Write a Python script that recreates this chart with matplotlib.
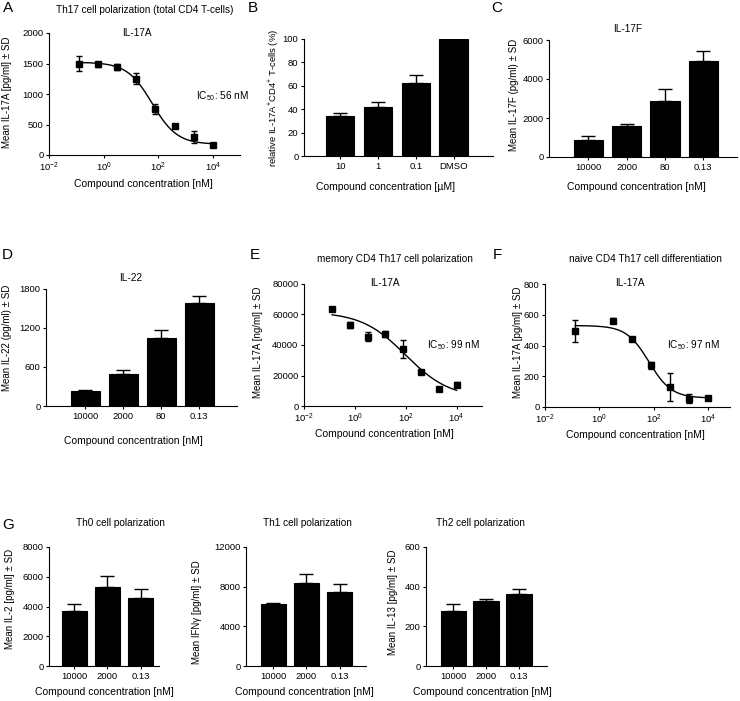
import numpy as np
import matplotlib
matplotlib.use('Agg')
import matplotlib.pyplot as plt

plt.rcParams['font.family'] = ['Liberation Sans', 'DejaVu Sans']
plt.rcParams['mathtext.fontset'] = 'custom'
plt.rcParams['mathtext.rm'] = 'Liberation Sans'
plt.rcParams['mathtext.it'] = 'Liberation Sans'
plt.rcParams['mathtext.bf'] = 'Liberation Sans'
plt.rcParams['axes.unicode_minus'] = False

W, H = 740, 701

# dose series (nM), 5-fold dilution
dose = [0.128, 0.64, 3.2, 16, 80, 400, 2000, 10000]

# A: Th17 total CD4, IL-17A
a_mean = [1500, 1490, 1450, 1250, 750, 470, 300, 160]
a_sd = [120, 40, 50, 90, 80, 20, 100, 20]
a_fit = dict(top=1520, bottom=175, ec50=60, hill=0.95)

# B: relative IL-17A+ CD4+ T-cells
b_labels = ['10', '1', '0.1', 'DMSO']
b_mean = [34, 42, 62, 100]
b_sd = [3, 4.5, 7, 0]

# C: IL-17F
c_labels = ['10000', '2000', '80', '0.13']
c_mean = [870, 1580, 2850, 4930]
c_sd = [230, 130, 650, 520]

# D: IL-22
d_labels = ['10000', '2000', '80', '0.13']
d_mean = [230, 500, 1050, 1590]
d_sd = [20, 50, 120, 100]

# E: memory CD4 Th17, IL-17A
e_mean = [63700, 53200, 45500, 47300, 37400, 22400, 11200, 14000]
e_sd = [600, 2000, 3000, 1800, 6000, 1000, 500, 1500]
e_fit = dict(top=61750, bottom=5150, ec50=99, hill=0.5)

# F: naive CD4 Th17, IL-17A
f_dose = [0.128, 3.2, 16, 80, 400, 2000, 10000]
f_mean = [495, 562, 442, 270, 130, 55, 61]
f_sd = [70, 15, 8, 25, 90, 30, 10]
f_fit = dict(top=530, bottom=58, ec50=66, hill=1.05)

# G: Th0 / Th1 / Th2
g_labels = ['10000', '2000', '0.13']
g0_mean = [3680, 5320, 4560]
g0_sd = [520, 720, 650]
g1_mean = [6300, 8350, 7450]
g1_sd = [80, 900, 800]
g2_mean = [275, 330, 362]
g2_sd = [38, 10, 25]

TICK_FS = 6.8
LAB_FS = 7.5
YLAB_FS = 7.0
TXT_FS = 7.2


def box(fig, l, t, r, b):
    return fig.add_axes([l / W, 1 - b / H, (r - l) / W, (b - t) / H])


def txt(fig, x, y, s, size=TXT_FS, **kw):
    fig.text(x / W, 1 - y / H, s, fontsize=size, ha='center', va='center', **kw)


def ylab(fig, x, y, s, size=YLAB_FS):
    txt(fig, x, y, s, size=size, rotation=90)


def style(ax):
    for s in ['top', 'right']:
        ax.spines[s].set_visible(False)
    for s in ['left', 'bottom']:
        ax.spines[s].set_linewidth(0.8)
    ax.tick_params(direction='out', length=2.5, width=0.8, labelsize=TICK_FS, pad=1.5)


def bar_panel(ax, labels, mean, sd, ymax, yticks, xlim, width):
    x = np.arange(len(labels))
    ax.bar(x, mean, width=width, color='black', edgecolor='black', linewidth=0.8)
    err = [np.zeros(len(sd)), sd]
    ax.errorbar(x, mean, yerr=err, fmt='none', ecolor='black', elinewidth=1.0,
                capsize=5, capthick=1.0)
    ax.set_xticks(x)
    ax.set_xticklabels(labels)
    ax.set_xlim(*xlim)
    ax.set_ylim(0, ymax)
    ax.set_yticks(yticks)
    style(ax)


def hill(x, top, bottom, ec50, hill):
    return bottom + (top - bottom) / (1 + (x / ec50) ** hill)


def dose_panel(ax, xs, mean, sd, fit, ymax, yticks, xmax):
    xc = np.logspace(np.log10(xs[0]), np.log10(xs[-1]), 200)
    ax.plot(xc, hill(xc, **fit), color='black', lw=1.0)
    ax.errorbar(xs, mean, yerr=sd, fmt='s', color='black', ms=4.2,
                elinewidth=1.0, capsize=2.2, capthick=1.0)
    ax.set_xscale('log')
    ax.set_xlim(1e-2, xmax)
    ax.set_xticks([1e-2, 1, 1e2, 1e4])
    ax.minorticks_off()
    ax.set_ylim(0, ymax)
    ax.set_yticks(yticks)
    style(ax)


fig = plt.figure(figsize=(W / 100, H / 100), dpi=100)

# ---- A
ax = box(fig, 49, 33, 240, 155)
dose_panel(ax, dose, a_mean, a_sd, a_fit, 2000, [0, 500, 1000, 1500, 2000], 1e5)
txt(fig, 8, 8, 'A', size=11)
txt(fig, 145, 10, 'Th17 cell polarization (total CD4 T-cells)')
txt(fig, 137, 33, 'IL-17A')
txt(fig, 222, 96, 'IC$_{50}$: 56 nM')
ylab(fig, 7, 92, 'Mean IL-17A [pg/ml] ± SD')
txt(fig, 143, 184, 'Compound concentration [nM]', size=LAB_FS)

# ---- B
ax = box(fig, 304, 39, 493, 156)
bar_panel(ax, b_labels, b_mean, b_sd, 100, [0, 20, 40, 60, 80, 100], (-0.95, 4.03), 0.76)
txt(fig, 253, 8, 'B', size=11)
ylab(fig, 274, 98, 'relative IL-17A$^{+}$CD4$^{+}$ T-cells (%)', size=6.8)
txt(fig, 386, 187, 'Compound concentration [µM]', size=LAB_FS)

# ---- C
ax = box(fig, 549, 40, 737, 157)
bar_panel(ax, c_labels, c_mean, c_sd, 6000, [0, 2000, 4000, 6000], (-1.03, 3.88), 0.76)
txt(fig, 497, 8, 'C', size=11)
txt(fig, 628, 29, 'IL-17F')
ylab(fig, 514, 95, 'Mean IL-17F (pg/ml) ± SD')
txt(fig, 636, 187, 'Compound concentration [nM]', size=LAB_FS)

# ---- D
ax = box(fig, 46, 289, 237, 406)
bar_panel(ax, d_labels, d_mean, d_sd, 1800, [0, 600, 1200, 1800], (-1.04, 4.0), 0.76)
txt(fig, 7, 255, 'D', size=11)
txt(fig, 131, 278, 'IL-22')
ylab(fig, 7, 338, 'Mean IL-22 (pg/ml) ± SD')
txt(fig, 133, 441, 'Compound concentration [nM]', size=LAB_FS)

# ---- E
ax = box(fig, 304, 284, 482, 406)
dose_panel(ax, dose, e_mean, e_sd, e_fit, 80000,
           [0, 20000, 40000, 60000, 80000], 1e5)
txt(fig, 255, 255, 'E', size=11)
txt(fig, 395, 259, 'memory CD4 Th17 cell polarization')
txt(fig, 385, 283, 'IL-17A')
txt(fig, 453, 345, 'IC$_{50}$: 99 nM')
ylab(fig, 258, 342, 'Mean IL-17A [ng/ml] ± SD')
txt(fig, 384, 434, 'Compound concentration [nM]', size=LAB_FS)

# ---- F
ax = box(fig, 545, 284, 730, 407)
dose_panel(ax, f_dose, f_mean, f_sd, f_fit, 800, [0, 200, 400, 600, 800], 10 ** 4.8)
txt(fig, 497, 255, 'F', size=11)
txt(fig, 645, 259, 'naive CD4 Th17 cell differentiation')
txt(fig, 630, 283, 'IL-17A')
txt(fig, 693, 345, 'IC$_{50}$: 97 nM')
ylab(fig, 518, 342, 'Mean IL-17A [pg/ml] ± SD')
txt(fig, 635, 435, 'Compound concentration [nM]', size=LAB_FS)

# ---- G
ax = box(fig, 49, 547, 159, 666)
bar_panel(ax, g_labels, g0_mean, g0_sd, 8000, [0, 2000, 4000, 6000, 8000], (-0.77, 2.56), 0.77)
txt(fig, 8, 525, 'G', size=11)
txt(fig, 120, 523, 'Th0 cell polarization')
ylab(fig, 10, 599, 'Mean IL-2 [pg/ml] ± SD')
txt(fig, 104, 692, 'Compound concentration [nM]', size=LAB_FS)

ax = box(fig, 246, 547, 366, 666)
bar_panel(ax, g_labels, g1_mean, g1_sd, 12000, [0, 4000, 8000, 12000], (-0.83, 2.8), 0.77)
txt(fig, 307, 523, 'Th1 cell polarization')
ylab(fig, 197, 612, 'Mean IFNγ [pg/ml] ± SD')
txt(fig, 304, 692, 'Compound concentration [nM]', size=LAB_FS)

ax = box(fig, 426, 547, 547, 666)
bar_panel(ax, g_labels, g2_mean, g2_sd, 600, [0, 200, 400, 600], (-0.82, 2.85), 0.76)
txt(fig, 480, 523, 'Th2 cell polarization')
ylab(fig, 393, 602, 'Mean IL-13 [pg/ml] ± SD')
txt(fig, 482, 692, 'Compound concentration [nM]', size=LAB_FS)

fig.savefig('out.png', dpi=100)
